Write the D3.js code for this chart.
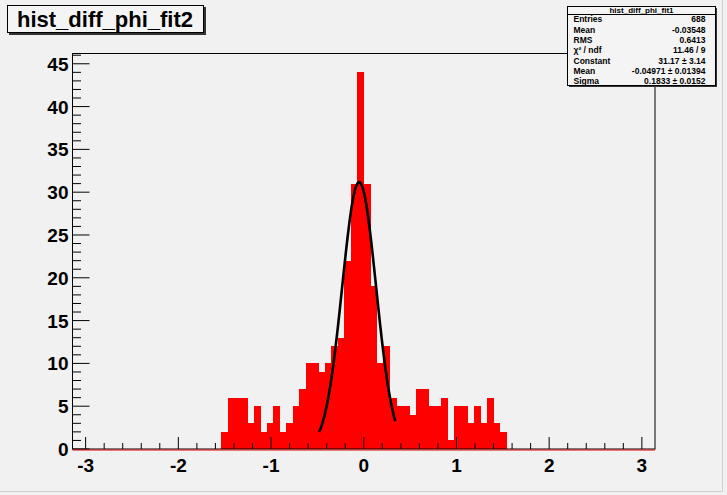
<!DOCTYPE html>
<html lang="en">
<head>
<meta charset="UTF-8">
<title>hist_diff_phi_fit2</title>
<script src="https://d3js.org/d3.v7.min.js"></script>
<style>
    body { margin: 0; background: #f1f1f1; }
    svg { display: block; font-family: "Liberation Sans", Arial, sans-serif; }
</style>
</head>
<body>
<div id="chart"></div>
<script>
    // histogram: 90 bins over [-pi, pi], non-empty bins start at index 23
    const nBins = 90;
    const firstBin = 23;
    const counts = [2, 6, 6, 6, 3, 5, 2, 3, 5, 2, 3, 5, 7, 10, 10,
                    9, 10, 12, 13, 22, 31, 44, 31, 19, 10, 12,
                    6, 5, 5, 4, 7, 7, 5, 5, 6, 1, 5, 5, 3, 5, 3, 6, 3, 2];

    // gaussian fit (from the stats box) and its drawn range
    const fitConstant = 31.17;
    const fitMean = -0.04971;
    const fitSigma = 0.1833;
    const fitRange = [-0.48, 0.34];

    const xTicks = [-3, -2, -1, 0, 1, 2, 3];
    const yTicks = [0, 5, 10, 15, 20, 25, 30, 35, 40, 45];

    const title = 'hist_diff_phi_fit2';
    const statTitle = 'hist_diff_phi_fit1';
    const statLabels = ['Entries', 'Mean', 'RMS', 'χ² / ndf', 'Constant', 'Mean', 'Sigma'];
    const statValues = ['688', '-0.03548', '0.6413', '11.46 / 9', '31.17 ± 3.14', '-0.04971 ± 0.01394', '0.1833 ± 0.0152'];

    const width = 727, height = 495;
    const frame = { left: 72.5, right: 655, top: 53.5, bottom: 449 };

    const svg = d3.select('#chart').append('svg')
        .attr('width', width)
        .attr('height', height);

    svg.append('rect').attr('width', width).attr('height', height).attr('fill', '#f1f1f1');
    // canvas edge
    svg.append('path')
        .attr('d', `M722.5,0V491.5H0`)
        .attr('fill', 'none').attr('stroke', '#cfcfcf');

    const x = d3.scaleLinear().domain([-Math.PI, Math.PI]).range([frame.left, frame.right]);
    const y = d3.scaleLinear().domain([0, 46.2]).range([frame.bottom, frame.top]);
    const binW = 2 * Math.PI / nBins;
    const edge = i => x(-Math.PI + (firstBin + i) * binW);

    // bars
    svg.append('g')
        .attr('shape-rendering', 'crispEdges')
        .selectAll('rect')
        .data(counts)
        .join('rect')
        .attr('x', (d, i) => edge(i))
        .attr('width', (d, i) => edge(i + 1) - edge(i) + 0.6)
        .attr('y', d => y(d))
        .attr('height', d => y(0) - y(d))
        .attr('fill', '#ff0000');

    // fit curve
    const fitX = d3.range(fitRange[0], fitRange[1] + 0.001, 0.005);
    const gaus = v => fitConstant * Math.exp(-0.5 * Math.pow((v - fitMean) / fitSigma, 2));
    svg.append('path')
        .datum(fitX)
        .attr('d', d3.line().x(d => x(d)).y(d => y(gaus(d))))
        .attr('fill', 'none')
        .attr('stroke', '#000')
        .attr('stroke-width', 2.6);

    // frame
    svg.append('rect')
        .attr('x', frame.left).attr('y', frame.top)
        .attr('width', frame.right - frame.left).attr('height', frame.bottom - frame.top)
        .attr('fill', 'none').attr('stroke', '#000');

    // x axis ticks (minor every 0.2)
    const xMinor = d3.range(-16, 17).map(v => v / 5);
    const gx = svg.append('g');
    gx.selectAll('line')
        .data(xMinor.filter(v => x(v) >= frame.left && x(v) <= frame.right))
        .join('line')
        .attr('x1', d => x(d)).attr('x2', d => x(d))
        .attr('y1', frame.bottom).attr('y2', d => frame.bottom - (Math.abs(d - Math.round(d)) < 1e-6 ? 12 : 6))
        .attr('stroke', '#000');
    gx.selectAll('text')
        .data(xTicks)
        .join('text')
        .attr('x', d => x(d))
        .attr('y', frame.bottom + 23)
        .attr('text-anchor', 'middle')
        .attr('font-size', 19)
        .attr('font-weight', 'bold')
        .text(d => d);

    // y axis ticks
    const yMinor = d3.range(0, 47);
    const gy = svg.append('g');
    gy.selectAll('line')
        .data(yMinor)
        .join('line')
        .attr('x1', frame.left)
        .attr('x2', d => frame.left + (d % 5 === 0 ? 17 : 8.5))
        .attr('y1', d => y(d)).attr('y2', d => y(d))
        .attr('stroke', '#000');
    gy.selectAll('text')
        .data(yTicks)
        .join('text')
        .attr('x', frame.left - 4)
        .attr('y', d => y(d) + 7)
        .attr('text-anchor', 'end')
        .attr('font-size', 19)
        .attr('font-weight', 'bold')
        .text(d => d);

    // red histogram baseline
    svg.append('line')
        .attr('x1', frame.left).attr('x2', frame.right)
        .attr('y1', frame.bottom + 1).attr('y2', frame.bottom + 1)
        .attr('stroke', '#e00000').attr('stroke-width', 1.2);

    // title box
    svg.append('rect').attr('x', 9).attr('y', 7).attr('width', 197).attr('height', 28).attr('fill', '#333');
    svg.append('rect').attr('x', 7.5).attr('y', 5.5).attr('width', 196).attr('height', 27)
        .attr('fill', '#f4f4f4').attr('stroke', '#000');
    svg.append('text')
        .attr('x', 105).attr('y', 27)
        .attr('text-anchor', 'middle')
        .attr('font-size', 22).attr('font-weight', 'bold')
        .text(title);

    // stats box
    const sb = { x: 567.5, y: 6.5, w: 148, h: 79 };
    svg.append('rect').attr('x', sb.x + 1.5).attr('y', sb.y + 1.5).attr('width', sb.w).attr('height', sb.h).attr('fill', '#333');
    svg.append('rect').attr('x', sb.x).attr('y', sb.y).attr('width', sb.w).attr('height', sb.h)
        .attr('fill', '#f4f4f4').attr('stroke', '#000');
    svg.append('line').attr('x1', sb.x).attr('x2', sb.x + sb.w).attr('y1', sb.y + 8).attr('y2', sb.y + 8).attr('stroke', '#000');
    svg.append('text')
        .attr('x', sb.x + sb.w / 2).attr('y', sb.y + 6.8)
        .attr('text-anchor', 'middle')
        .attr('font-size', 8).attr('font-weight', 'bold')
        .text(statTitle);
    const rowY = i => sb.y + 15.8 + i * 10.3;
    svg.append('g').selectAll('text')
        .data(statLabels)
        .join('text')
        .attr('x', sb.x + 6).attr('y', (d, i) => rowY(i))
        .attr('font-size', 8.5).attr('font-weight', 'bold')
        .text(d => d);
    svg.append('g').selectAll('text')
        .data(statValues)
        .join('text')
        .attr('x', sb.x + sb.w - 10).attr('y', (d, i) => rowY(i))
        .attr('text-anchor', 'end')
        .attr('font-size', 8.5).attr('font-weight', 'bold')
        .text(d => d);
</script>
</body>
</html>
